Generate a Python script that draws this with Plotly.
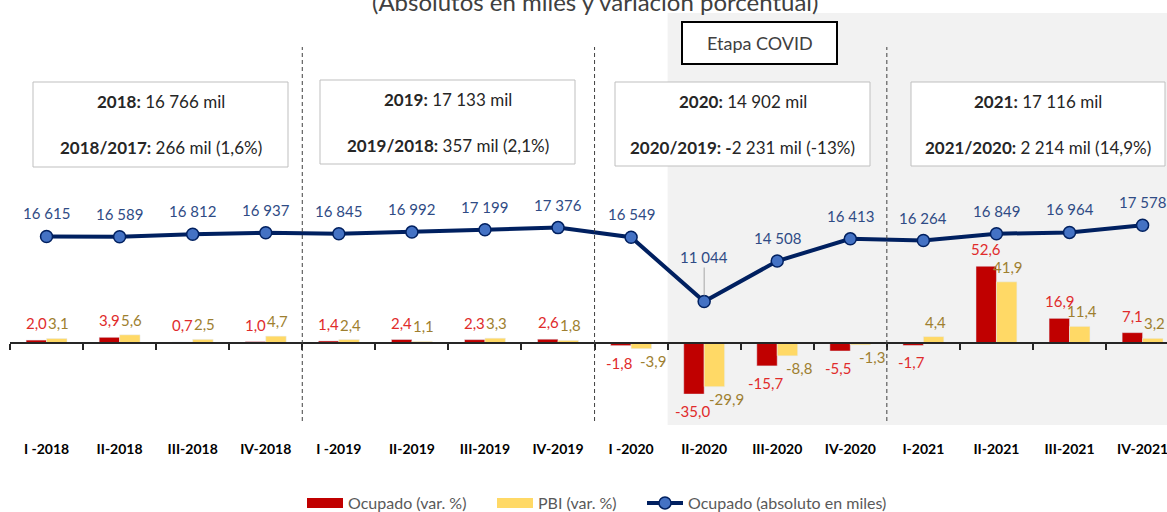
import plotly.graph_objects as go

categories = ["I -2018", "II-2018", "III-2018", "IV-2018", "I -2019", "II-2019", "III-2019", "IV-2019",
              "I -2020", "II-2020", "III-2020", "IV-2020", "I-2021", "II-2021", "III-2021", "IV-2021"]
ocupado_var = [2.0, 3.9, 0.7, 1.0, 1.4, 2.4, 2.3, 2.6, -1.8, -35.0, -15.7, -5.5, -1.7, 52.6, 16.9, 7.1]
pbi_var = [3.1, 5.6, 2.5, 4.7, 2.4, 1.1, 3.3, 1.8, -3.9, -29.9, -8.8, -1.3, 4.4, 41.9, 11.4, 3.2]
ocupado_abs = [16615, 16589, 16812, 16937, 16845, 16992, 17199, 17376,
               16549, 11044, 14508, 16413, 16264, 16849, 16964, 17578]

title_text = "(Absolutos en miles y variación porcentual)"
box_lines = [
    ("<b>2018:</b> 16 766 mil", "<b>2018/2017:</b> 266 mil (1,6%)"),
    ("<b>2019:</b> 17 133 mil", "<b>2019/2018:</b> 357 mil (2,1%)"),
    ("<b>2020:</b> 14 902 mil", "<b>2020/2019: -</b>2 231 mil (-13%)"),
    ("<b>2021:</b> 17 116 mil", "<b>2021/2020:</b> 2 214 mil (14,9%)"),
]
covid_label = "Etapa COVID"
covid_start_boundary = 8.5
year_boundaries = [3.5, 7.5, 11.5]

FONT = "Lato, Carlito, Calibri, sans-serif"
BOLD_FONT = "Liberation Sans Narrow, Arial Narrow, Lato, sans-serif"
RED = "#C00000"
YEL = "#FFD966"
NAVY = "#002060"
RED_TXT = "#E02B2B"
YEL_TXT = "#9E7F30"
NAVY_TXT = "#2F4B85"

# plot area in pixels
L, R, T, B = 10, 1167, 13, 425
W, H = R - L, B - T


def px(x):
    return (x - L) / W


def py(y):
    return (B - y) / H


def fmt_pct(v):
    return f"{v:.1f}".replace(".", ",")


def fmt_abs(v):
    return f"{v:,}".replace(",", " ")


fig = go.Figure()

fig.add_trace(go.Bar(x=categories, y=ocupado_var, name="Ocupado (var. %)", marker_color=RED,
                     xaxis="x2", yaxis="y", offsetgroup="a", showlegend=False))
fig.add_trace(go.Bar(x=categories, y=pbi_var, name="PBI (var. %)", marker_color=YEL,
                     xaxis="x2", yaxis="y", offsetgroup="b", showlegend=False))
fig.add_trace(go.Scatter(x=categories, y=ocupado_abs, name="Ocupado (absoluto en miles)",
                         mode="lines+markers", line=dict(color=NAVY, width=4),
                         marker=dict(size=12, color="#4472C4", line=dict(color=NAVY, width=1.5)),
                         xaxis="x", yaxis="y2", showlegend=False))

# legend entries (swatches styled like the reference legend)
fig.add_trace(go.Scatter(x=[None], y=[None], name="Ocupado (var. %)", mode="lines",
                         line=dict(color=RED, width=12), xaxis="x", yaxis="y2", legend="legend"))
fig.add_trace(go.Scatter(x=[None], y=[None], name="PBI (var. %)", mode="lines",
                         line=dict(color=YEL, width=12), xaxis="x", yaxis="y2", legend="legend2"))
fig.add_trace(go.Scatter(x=[None], y=[None], name="Ocupado (absoluto en miles)", mode="lines+markers",
                         line=dict(color=NAVY, width=4),
                         marker=dict(size=12, color="#4472C4", line=dict(color=NAVY, width=1.5)),
                         xaxis="x", yaxis="y2", legend="legend3"))

annotations = []
for i, c in enumerate(categories):
    v = ocupado_var[i]
    annotations.append(dict(x=c, y=v, xref="x2", yref="y", text=fmt_pct(v), showarrow=False,
                            xshift=-10 if v >= 0 else -12, yshift=6 if v >= 0 else -6,
                            yanchor="bottom" if v >= 0 else "top",
                            font=dict(family=FONT, size=15, color=RED_TXT)))
    v = pbi_var[i]
    annotations.append(dict(x=c, y=v, xref="x2", yref="y", text=fmt_pct(v), showarrow=False,
                            xshift=12 if v >= 0 else 22, yshift=4 if v >= 0 else -1,
                            yanchor="bottom" if v >= 0 else "top",
                            font=dict(family=FONT, size=15, color=YEL_TXT)))
imin = ocupado_abs.index(min(ocupado_abs))
for i, c in enumerate(categories):
    v = ocupado_abs[i]
    if i == imin:
        annotations.append(dict(x=c, y=v, xref="x", yref="y2", text=fmt_abs(v), showarrow=True,
                                arrowhead=0, arrowwidth=1, arrowcolor="#A6A6A6", ax=0, ay=-34,
                                yanchor="bottom", standoff=6,
                                font=dict(family=FONT, size=15, color=NAVY_TXT)))
    else:
        annotations.append(dict(x=c, y=v, xref="x", yref="y2", text=fmt_abs(v), showarrow=False,
                                yshift=12, yanchor="bottom",
                                font=dict(family=FONT, size=15, color=NAVY_TXT)))

# title
annotations.append(dict(x=px(595), y=py(1), xref="paper", yref="paper", text=title_text,
                        showarrow=False, yanchor="middle", xanchor="center",
                        font=dict(family=FONT, size=24, color="#404040")))

shapes = []
shapes.append(dict(type="rect", xref="x", yref="paper", x0=covid_start_boundary, x1=16,
                   y0=0, y1=1, fillcolor="#F2F2F2", line=dict(width=0), layer="below"))
for b in year_boundaries:
    shapes.append(dict(type="line", xref="x", yref="paper", x0=b, x1=b, y0=py(421), y1=py(47),
                       line=dict(color="#404040", width=1, dash="4px,3px")))

boxes = [(33, 288, 82, 167), (320, 575, 80, 164), (615, 870, 82, 166), (911, 1165, 82, 166)]
for (x0, x1, y0, y1), (l1, l2) in zip(boxes, box_lines):
    shapes.append(dict(type="rect", xref="paper", yref="paper", x0=px(x0), x1=px(x1),
                       y0=py(y1), y1=py(y0), fillcolor="white", line=dict(color="#BFBFBF", width=1)))
    cx = px((x0 + x1) / 2)
    annotations.append(dict(x=cx, y=py(y0 + 19), xref="paper", yref="paper", text=l1, showarrow=False,
                            xanchor="center", yanchor="middle",
                            font=dict(family=FONT, size=17, color="#262626")))
    annotations.append(dict(x=cx, y=py(y0 + 65), xref="paper", yref="paper", text=l2, showarrow=False,
                            xanchor="center", yanchor="middle",
                            font=dict(family=FONT, size=17, color="#262626")))

shapes.append(dict(type="rect", xref="paper", yref="paper", x0=px(682), x1=px(837),
                   y0=py(64), y1=py(22), fillcolor="white", line=dict(color="black", width=2)))
annotations.append(dict(x=px(759.5), y=py(43), xref="paper", yref="paper", text=covid_label,
                        showarrow=False, xanchor="center", yanchor="middle",
                        font=dict(family=FONT, size=18, color="#404040")))

legend_style = dict(orientation="h", xanchor="left", y=py(503), yanchor="middle",
                    font=dict(family=FONT, size=16, color="#595959"),
                    itemsizing="trace", itemwidth=36, bgcolor="rgba(0,0,0,0)")

xr = [-0.5, -0.5 + W / 73.07]
fig.update_layout(
    width=1167, height=512,
    margin=dict(l=L, r=1167 - R, t=T, b=512 - B, autoexpand=False),
    paper_bgcolor="white", plot_bgcolor="rgba(0,0,0,0)",
    barmode="group", bargap=0.44, bargroupgap=0,
    showlegend=True,
    legend=dict(x=px(302), **legend_style),
    legend2=dict(x=px(492), **legend_style),
    legend3=dict(x=px(642), **legend_style),
    xaxis=dict(type="category", categoryorder="array", categoryarray=categories, range=xr,
               showline=False, ticks="", showgrid=False, zeroline=False,
               tickfont=dict(family=BOLD_FONT, size=14, color="black", weight=700),
               ticklabelstandoff=14),
    xaxis2=dict(type="category", categoryorder="array", categoryarray=categories, range=xr,
                overlaying="x", anchor="free", position=py(343),
                showline=True, linecolor="#262626", linewidth=1.5,
                ticks="outside", tickson="boundaries", ticklen=6, tickcolor="#262626", tickwidth=1.5,
                showticklabels=False, showgrid=False, zeroline=False),
    yaxis=dict(range=[-(B - 343) / 1.46, (343 - T) / 1.46], visible=False, showgrid=False, zeroline=False),
    yaxis2=dict(range=[11044 - (B - 301.5) / 0.01167, 11044 + (301.5 - T) / 0.01167],
                overlaying="y", visible=False, showgrid=False, zeroline=False),
    shapes=shapes, annotations=annotations,
    font=dict(family=FONT),
)

fig.write_html("out.html", config={"displayModeBar": False},
               post_script="document.body.style.margin='0';document.body.style.overflow='hidden';")
